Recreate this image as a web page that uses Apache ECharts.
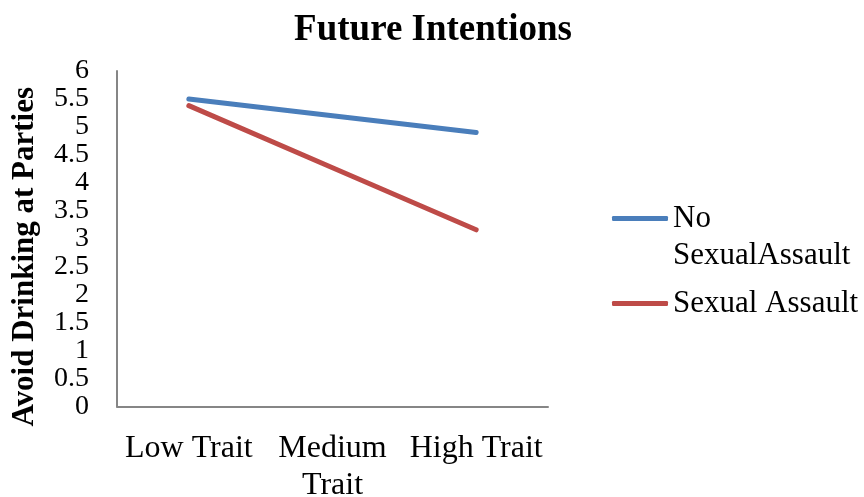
<!DOCTYPE html>
<html>
<head>
<meta charset="utf-8">
<script src="https://cdn.jsdelivr.net/npm/echarts@6/dist/echarts.min.js"></script>
<style>
  html, body { margin: 0; padding: 0; background: #ffffff; }
  #chart { width: 864px; height: 497px; }
</style>
</head>
<body>
<div id="chart"></div>
<script>
// Categories along the x axis
const categories = ['Low Trait', 'Medium\nTrait', 'High Trait'];
// Series values (Avoid Drinking at Parties)
const noAssault = [5.50, 5.20, 4.90];
const sexualAssault = [5.38, 4.27, 3.16];
// Series names as shown in the legend
const seriesNames = ['No SexualAssault', 'Sexual Assault'];
// Legend text; the leading blank line keeps the wrapped entry's icon beside "No"
const legendLabels = { 'No SexualAssault': '\nNo\nSexualAssault', 'Sexual Assault': 'Sexual Assault' };

const serif = 'Liberation Serif, Times New Roman, serif';
const chart = echarts.init(document.getElementById('chart'));

chart.setOption({
  backgroundColor: '#ffffff',
  animation: false,
  title: {
    text: 'Future Intentions',
    left: 428,
    textAlign: 'center',
    top: 7,
    textStyle: { fontFamily: serif, fontSize: 37, fontWeight: 'bold', color: '#000' }
  },
  legend: {
    orient: 'vertical',
    left: 612,
    top: 163,
    padding: 0,
    itemWidth: 56,
    itemHeight: 5,
    itemGap: 11,
    icon: 'roundRect',
    data: seriesNames,
    formatter: name => legendLabels[name],
    textStyle: { fontFamily: serif, fontSize: 31, color: '#000', lineHeight: 37 }
  },
  grid: { left: 117, right: 316, top: 71, bottom: 90.5, containLabel: false, outerBoundsMode: 'none' },
  xAxis: {
    type: 'category',
    data: categories,
    boundaryGap: true,
    axisLine: { lineStyle: { color: '#868686', width: 2 } },
    axisTick: { show: false },
    axisLabel: { fontFamily: serif, fontSize: 32, color: '#000', lineHeight: 37, margin: 24, interval: 0, hideOverlap: false }
  },
  yAxis: {
    type: 'value',
    min: 0,
    max: 6,
    interval: 0.5,
    name: 'Avoid Drinking at Parties',
    nameLocation: 'middle',
    nameGap: 77,
    nameTextStyle: { fontFamily: serif, fontSize: 31, fontWeight: 'bold', color: '#000', padding: [0, 36, 0, 0] },
    axisLine: { show: true, lineStyle: { color: '#868686', width: 2 } },
    axisTick: { show: false },
    splitLine: { show: false },
    axisLabel: { fontFamily: serif, fontSize: 28, color: '#000', margin: 28, showMinLabel: true, showMaxLabel: true, hideOverlap: false }
  },
  series: [
    {
      name: seriesNames[0],
      type: 'line',
      data: noAssault,
      symbol: 'none',
      color: '#4a7ebb',
      lineStyle: { width: 5, cap: 'round', color: '#4a7ebb' }
    },
    {
      name: seriesNames[1],
      type: 'line',
      data: sexualAssault,
      symbol: 'none',
      color: '#be4b48',
      lineStyle: { width: 5, cap: 'round', color: '#be4b48' }
    }
  ]
});
</script>
</body>
</html>
